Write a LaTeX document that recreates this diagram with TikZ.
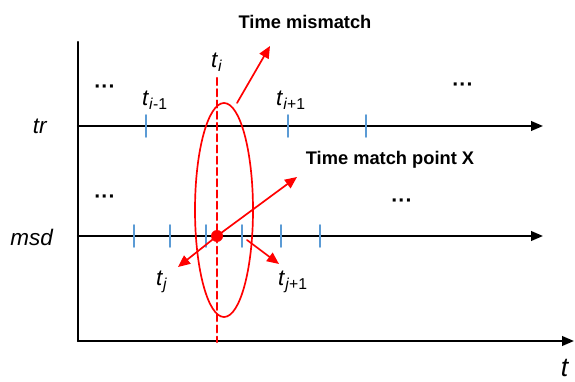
\documentclass[tikz,border=0pt]{standalone}
\usepackage{fontspec}
\setmainfont{Liberation Sans}
\usetikzlibrary{arrows.meta}
\definecolor{tickblue}{RGB}{91,155,213}
\newcommand{\tlab}[2]{\textit{t}\textsubscript{\textit{#1}#2}}

\begin{document}
\begin{tikzpicture}[>={Triangle[length=3mm,width=2.4mm]},line cap=round,
  axis/.style={line width=1.5pt},
  tickmark/.style={tickblue,line width=1.2pt},
  redline/.style={red,line width=1.2pt},
  redarrow/.style={red,line width=1.2pt,-{Triangle[length=3mm,width=2.6mm]}},
  lab/.style={font=\fontsize{16}{18}\selectfont,inner sep=1pt},
  title/.style={font=\fontsize{13}{15}\selectfont\bfseries,inner sep=1pt},
  dots/.style={font=\fontsize{15}{17}\selectfont\bfseries,inner sep=1pt}]
\useasboundingbox (0,0) rectangle (14.375,9.525);
% axes
\coordinate (top) at (1.95,8.475);
\coordinate (origin) at (1.95,1.0);
\coordinate (tend) at (14.35,1.0);
\draw[axis] (top) -- (origin);
\draw[axis,->] (origin) -- (tend);
\node[lab] (tlabel) at (14.125,0.325) {\fontsize{19}{21}\selectfont\textit{t}};
% tr line
\coordinate (trstart) at (1.95,6.375);
\coordinate (trend) at (13.575,6.375);
\draw[axis,->] (trstart) -- (trend);
\node[lab] (tr) at (1.0,6.375) {\textit{tr}};
\foreach \x in {3.65,7.2,9.15}
  \draw[tickmark] (\x,6.1) -- (\x,6.65);
% msd line
\coordinate (msdstart) at (1.95,3.625);
\coordinate (msdend) at (13.575,3.625);
\draw[axis,->] (msdstart) -- (msdend);
\node[lab] (msd) at (0.8,3.6) {\textit{msd}};
\foreach \x in {3.35,4.25,5.15,6.05,7.025,8.0}
  \draw[tickmark] (\x,3.35) -- (\x,3.9);
% dots
\node[dots] (dtl) at (2.625,7.3) {···};
\node[dots] (dml) at (2.625,4.55) {···};
\node[dots] (dtr) at (11.575,7.35) {···};
\node[dots] (dmr) at (10.05,4.45) {···};
% time labels
\node[lab] (ti) at (5.425,7.975) {\tlab{i}{}};
\node[lab] (tiprev) at (3.875,7.025) {\tlab{i}{-1}};
\node[lab] (tinext) at (7.275,7.025) {\tlab{i}{+1}};
\node[lab] (tj) at (4.05,2.475) {\tlab{j}{}};
\node[lab] (tjnext) at (7.325,2.475) {\tlab{j}{+1}};
% match
\coordinate (dtop) at (5.425,7.575);
\coordinate (dbot) at (5.425,0.975);
\draw[red,line width=1.5pt,dash pattern=on 5pt off 3pt] (dtop) -- (dbot);
\draw[redline] (5.6,4.275) ellipse (0.725 and 2.675);
\node[circle,fill=red,inner sep=0pt,minimum size=0.3cm] (X) at (5.425,3.625) {};
\coordinate (xhead) at (7.425,5.1);
\coordinate (jhead) at (4.45,2.85);
\coordinate (jnstart) at (6.175,3.525);
\coordinate (jnhead) at (6.975,2.925);
\coordinate (mmstart) at (5.925,6.95);
\coordinate (mmhead) at (6.75,8.375);
\draw[redarrow] (X.center) -- (xhead);
\draw[redarrow] (X.center) -- (jhead);
\draw[redarrow] (jnstart) -- (jnhead);
\draw[redarrow] (mmstart) -- (mmhead);
\node[title] (mismatch) at (7.625,8.975) {Time mismatch};
\node[title] (matchpt) at (9.75,5.525) {Time match point X};
\end{tikzpicture}
\end{document}
